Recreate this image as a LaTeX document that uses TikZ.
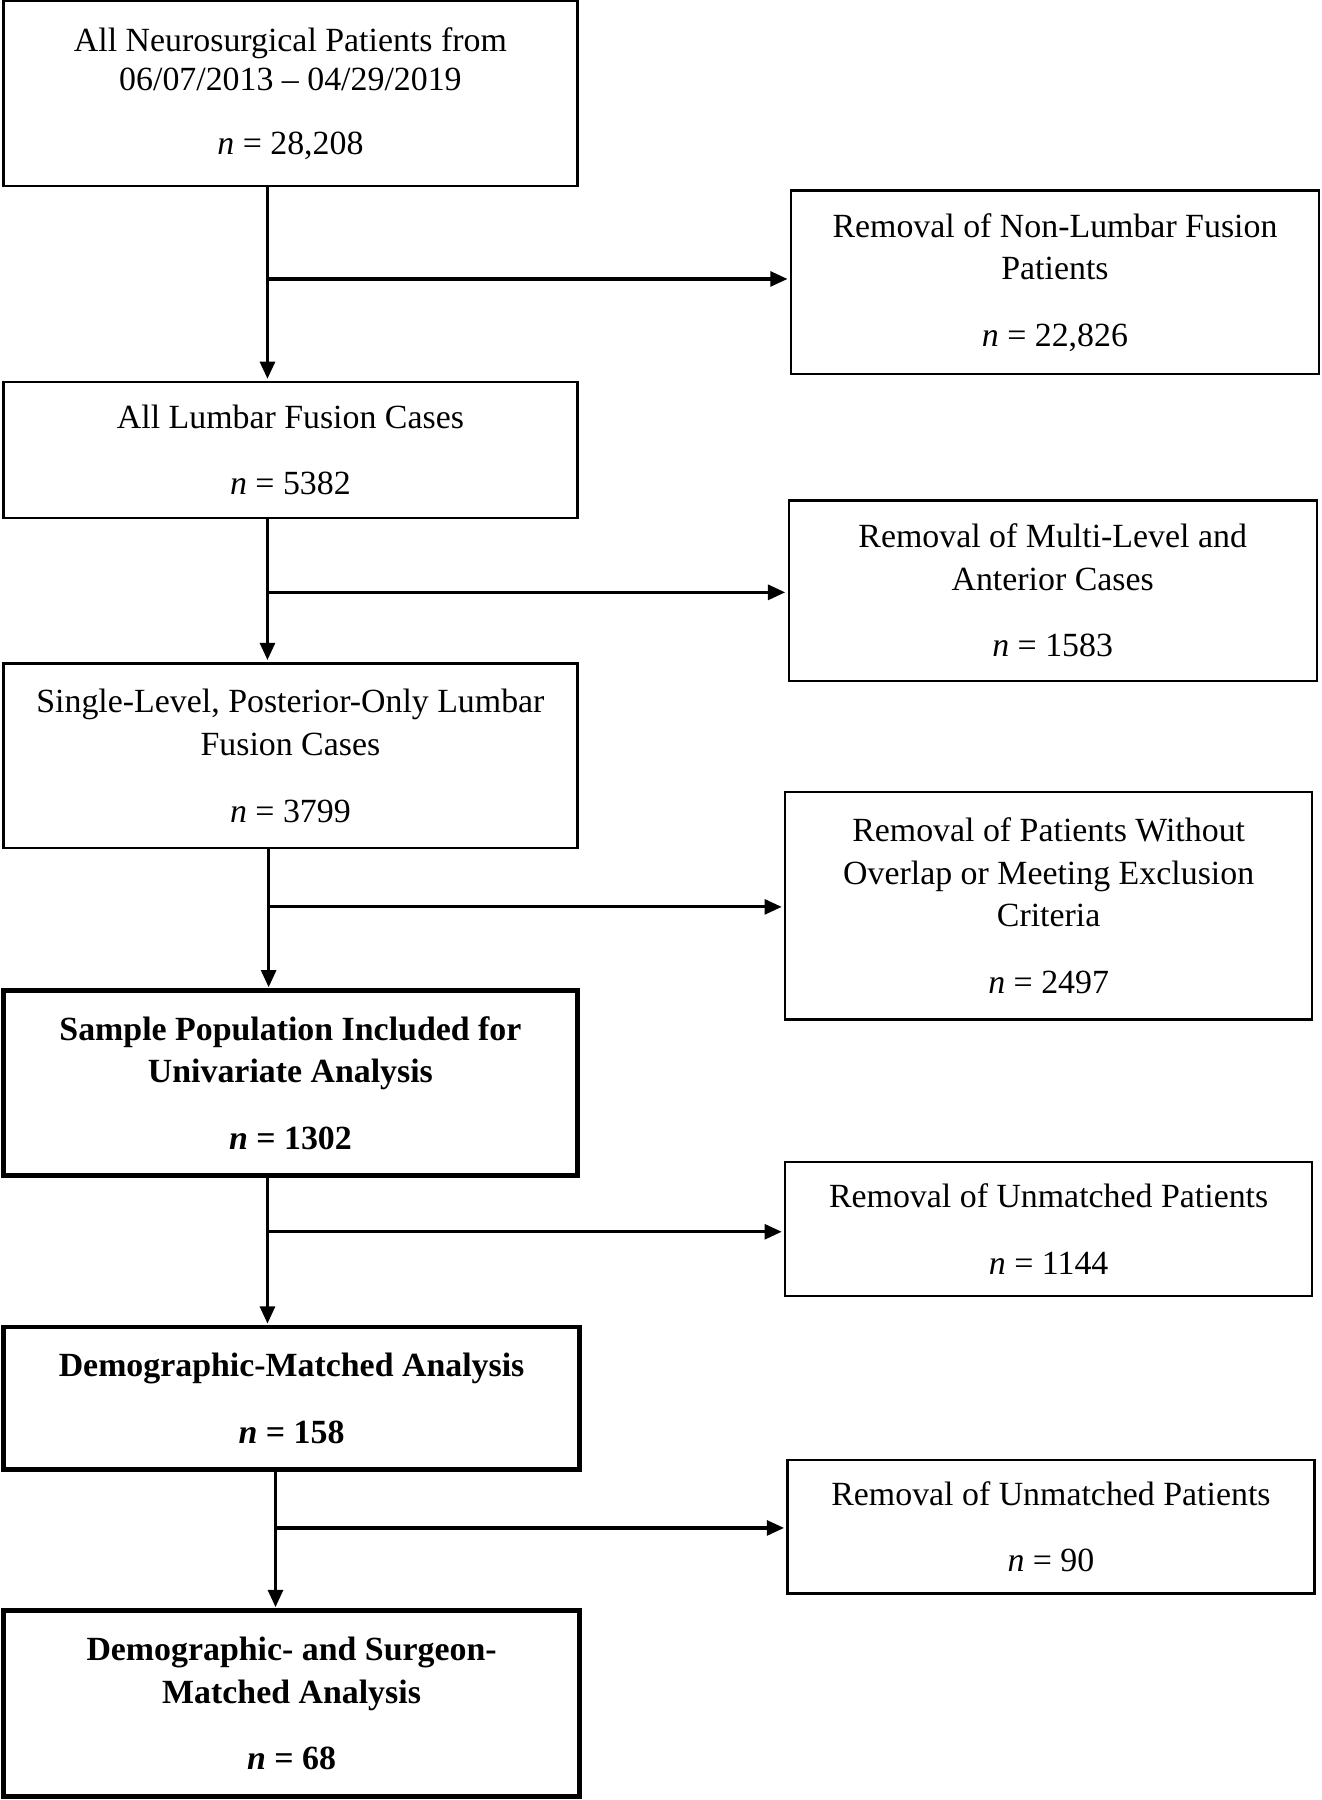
\documentclass[tikz,border=0pt]{standalone}
\usepackage{fontspec}
\setmainfont{Liberation Serif}
\usetikzlibrary{arrows.meta}
\begin{document}
\begin{tikzpicture}[x=1pt,y=-1pt,
  box/.style={draw, line width=2pt, anchor=north west, align=center, inner sep=0pt, outer sep=0pt,
    font=\fontsize{29.5}{37}\selectfont},
  boldbox/.style={box, line width=4pt, font=\fontsize{29.5}{37}\selectfont\bfseries},
  arr/.style={line width=2.7pt, -{Triangle[length=15pt,width=13pt]}, shorten >=3pt}]
\useasboundingbox (0,0) rectangle (1151,1568);

\node[box, minimum width=500pt, minimum height=161pt] (A) at (3,1)
  {All Neurosurgical Patients from\\[-3pt]06/07/2013 -- 04/29/2019\\[19pt]\textit{n} = 28,208};
\node[box, minimum width=460pt, minimum height=160pt] (B) at (689,166)
  {Removal of Non-Lumbar Fusion\\Patients\\[21pt]\textit{n} = 22,826};
\node[box, minimum width=500pt, minimum height=118pt] (C) at (3,333)
  {All Lumbar Fusion Cases\\[21pt]\textit{n} = 5382};
\node[box, minimum width=460pt, minimum height=157pt] (D) at (687,436)
  {Removal of Multi-Level and\\Anterior Cases\\[21pt]\textit{n} = 1583};
\node[box, minimum width=500pt, minimum height=161pt] (E) at (3,578)
  {Single-Level, Posterior-Only Lumbar\\Fusion Cases\\[21pt]\textit{n} = 3799};
\node[box, minimum width=459pt, minimum height=198pt] (F) at (684,690)
  {Removal of Patients Without\\Overlap or Meeting Exclusion\\Criteria\\[21pt]\textit{n} = 2497};
\node[boldbox, minimum width=500pt, minimum height=161pt] (G) at (3,863)
  {Sample Population Included for\\Univariate Analysis\\[21pt]\textit{n} = 1302};
\node[box, minimum width=459pt, minimum height=117pt] (H) at (684,1012)
  {Removal of Unmatched Patients\\[21pt]\textit{n} = 1144};
\node[boldbox, minimum width=502pt, minimum height=124pt] (I) at (3,1156)
  {Demographic-Matched Analysis\\[21pt]\textit{n} = 158};
\node[box, minimum width=459pt, minimum height=116pt] (J) at (686,1272)
  {Removal of Unmatched Patients\\[21pt]\textit{n} = 90};
\node[boldbox, minimum width=502pt, minimum height=162pt] (K) at (3,1403)
  {Demographic- and Surgeon-\\Matched Analysis\\[21pt]\textit{n} = 68};

\coordinate (j1) at (233,243);
\coordinate (j2) at (233,516);
\coordinate (j3) at (234,790);
\coordinate (j4) at (233,1073);
\coordinate (j5) at (240,1331);

\draw[arr] (A.south -| j1) -- (C.north -| j1);
\draw[arr] (j1) -- (j1 -| B.west);
\draw[arr] (C.south -| j2) -- (E.north -| j2);
\draw[arr] (j2) -- (j2 -| D.west);
\draw[arr] (E.south -| j3) -- (G.north -| j3);
\draw[arr] (j3) -- (j3 -| F.west);
\draw[arr] (G.south -| j4) -- (I.north -| j4);
\draw[arr] (j4) -- (j4 -| H.west);
\draw[arr] (I.south -| j5) -- (K.north -| j5);
\draw[arr] (j5) -- (j5 -| J.west);
\end{tikzpicture}
\end{document}
